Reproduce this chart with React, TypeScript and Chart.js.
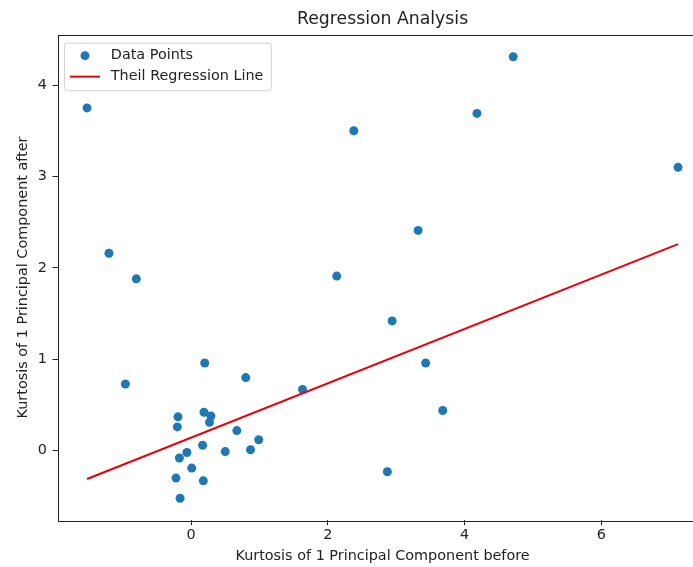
import React, { useEffect, useRef } from "react";
import { Chart, registerables } from "chart.js";

Chart.register(...registerables);

// ---- data ----
const pointX = [-1.52, -1.2, -0.8, -0.96, 4.71, 4.18, 2.38, 7.12, 3.32, 2.13, 2.94, 3.43, 3.68, 2.87, 1.63, 0.8, 0.2, -0.19, -0.2, 0.19, 0.29, 0.27, 0.67, 0.99, 0.17, -0.06, -0.17, 0.5, 0.87, 0.01, -0.22, 0.18, -0.16];
const pointY = [3.75, 2.16, 1.88, 0.73, 4.31, 3.69, 3.5, 3.1, 2.41, 1.91, 1.42, 0.96, 0.44, -0.23, 0.67, 0.8, 0.96, 0.37, 0.26, 0.42, 0.38, 0.31, 0.22, 0.12, 0.06, -0.02, -0.08, -0.01, 0.01, -0.19, -0.3, -0.33, -0.52];
const lineX = [-1.52, 7.12];
const lineY = [-0.31, 2.26];
const xTicks = [0, 2, 4, 6];
const yTicks = [0, 1, 2, 3, 4];
const seriesLabels = ["Data Points", "Theil Regression Line"];
const titleText = "Regression Analysis";
const xLabel = "Kurtosis of 1 Principal Component before";
const yLabel = "Kurtosis of 1 Principal Component after";

const FONT = "'DejaVu Sans', sans-serif";
const FS = 14.4;
const TEXT = "#222";
const BLUE = "#1f77b4";
const RED = "#e8000b";

function paddedRange(vals: number[]) {
  const mn = Math.min(...vals);
  const mx = Math.max(...vals);
  const m = (mx - mn) * 0.05;
  return [mn - m, mx + m];
}

const framePlugin = {
  id: "frame",
  afterDraw(chart: any) {
    const { ctx, chartArea: a } = chart;
    ctx.save();
    ctx.strokeStyle = TEXT;
    ctx.lineWidth = 1;
    ctx.strokeRect(Math.round(a.left) + 0.5, Math.round(a.top) + 0.5, Math.round(a.right - a.left), Math.round(a.bottom - a.top));
    ctx.restore();
  },
};

const legendPlugin = {
  id: "innerLegend",
  afterDraw(chart: any) {
    const { ctx, chartArea: a } = chart;
    const ds = chart.data.datasets;
    ctx.save();
    ctx.font = `${FS}px ${FONT}`;
    const textX = a.left + 53.3;
    const tw = Math.max(...ds.map((d: any) => ctx.measureText(d.label).width));
    const bx = a.left + 7;
    const by = a.top + 8.5;
    const bw = textX - bx + tw + 8;
    const bh = 47.5;
    ctx.beginPath();
    ctx.roundRect(bx, by, bw, bh, 3);
    ctx.fillStyle = "rgba(255,255,255,0.8)";
    ctx.fill();
    ctx.strokeStyle = "#d4d4d4";
    ctx.lineWidth = 1;
    ctx.stroke();
    const rows = [a.top + 21, a.top + 42];
    ds.forEach((d: any, i: number) => {
      const y = rows[i];
      if (d.type === "line") {
        ctx.beginPath();
        ctx.moveTo(a.left + 12.5, y);
        ctx.lineTo(a.left + 42.5, y);
        ctx.strokeStyle = d.borderColor;
        ctx.lineWidth = 2;
        ctx.stroke();
      } else {
        ctx.beginPath();
        ctx.arc(a.left + 27.5, y, 4.5, 0, Math.PI * 2);
        ctx.fillStyle = d.backgroundColor;
        ctx.fill();
      }
      ctx.fillStyle = TEXT;
      ctx.textBaseline = "middle";
      ctx.textAlign = "left";
      ctx.fillText(d.label, textX, y);
    });
    ctx.restore();
  },
};

export default function App() {
  const ref = useRef<HTMLCanvasElement | null>(null);

  useEffect(() => {
    if (!ref.current) return;
    const [xmin, xmax] = paddedRange(pointX.concat(lineX));
    const [ymin, ymax] = paddedRange(pointY.concat(lineY));
    const chart = new Chart(ref.current, {
      type: "scatter",
      data: {
        datasets: [
          {
            type: "scatter",
            label: seriesLabels[0],
            data: pointX.map((x, i) => ({ x, y: pointY[i] })),
            backgroundColor: BLUE,
            borderWidth: 0,
            pointRadius: 4.5,
            order: 1,
          } as any,
          {
            type: "line",
            label: seriesLabels[1],
            data: lineX.map((x, i) => ({ x, y: lineY[i] })),
            borderColor: RED,
            borderWidth: 2,
            pointRadius: 0,
            fill: false,
            order: 0,
          } as any,
        ],
      },
      options: {
        responsive: false,
        animation: false,
        layout: { padding: { left: 0, right: 12.4, top: 0, bottom: 0 } },
        plugins: {
          legend: { display: false },
          tooltip: { enabled: false },
          title: {
            display: true,
            text: titleText,
            fullSize: false,
            color: TEXT,
            font: { family: FONT, size: 17.3, weight: "normal" },
            padding: { top: 9.6, bottom: 4.3 },
          },
        },
        scales: {
          x: {
            type: "linear",
            min: xmin,
            max: xmax,
            afterBuildTicks: (s: any) => {
              s.ticks = xTicks.map((v) => ({ value: v }));
            },
            afterFit: (s: any) => {
              s.height = 46.7;
            },
            grid: { drawOnChartArea: false, drawTicks: true, tickLength: 5, color: TEXT },
            border: { display: false },
            ticks: {
              color: TEXT,
              font: { family: FONT, size: FS },
              padding: 1.5,
              maxRotation: 0,
              autoSkip: false,
            },
            title: {
              display: true,
              text: xLabel,
              color: TEXT,
              font: { family: FONT, size: FS },
              padding: { top: 0, bottom: 1.7 },
            },
          },
          y: {
            type: "linear",
            min: ymin,
            max: ymax,
            afterBuildTicks: (s: any) => {
              s.ticks = yTicks.map((v) => ({ value: v }));
            },
            afterFit: (s: any) => {
              s.width = 57.5;
            },
            grid: { drawOnChartArea: false, drawTicks: true, tickLength: 5, color: TEXT },
            border: { display: false },
            ticks: {
              color: TEXT,
              font: { family: FONT, size: FS },
              padding: 5.5,
              autoSkip: false,
            },
            title: {
              display: true,
              text: yLabel,
              color: TEXT,
              font: { family: FONT, size: FS },
              padding: { top: 14.7, bottom: 0 },
            },
          },
        },
      },
      plugins: [framePlugin, legendPlugin],
    });
    return () => chart.destroy();
  }, []);

  return (
    <div style={{ position: "absolute", left: 0, top: 0, width: 693, height: 567, overflow: "hidden", background: "#fff" }}>
      <canvas ref={ref} width={720} height={567} style={{ display: "block", width: 720, height: 567 }} />
    </div>
  );
}
